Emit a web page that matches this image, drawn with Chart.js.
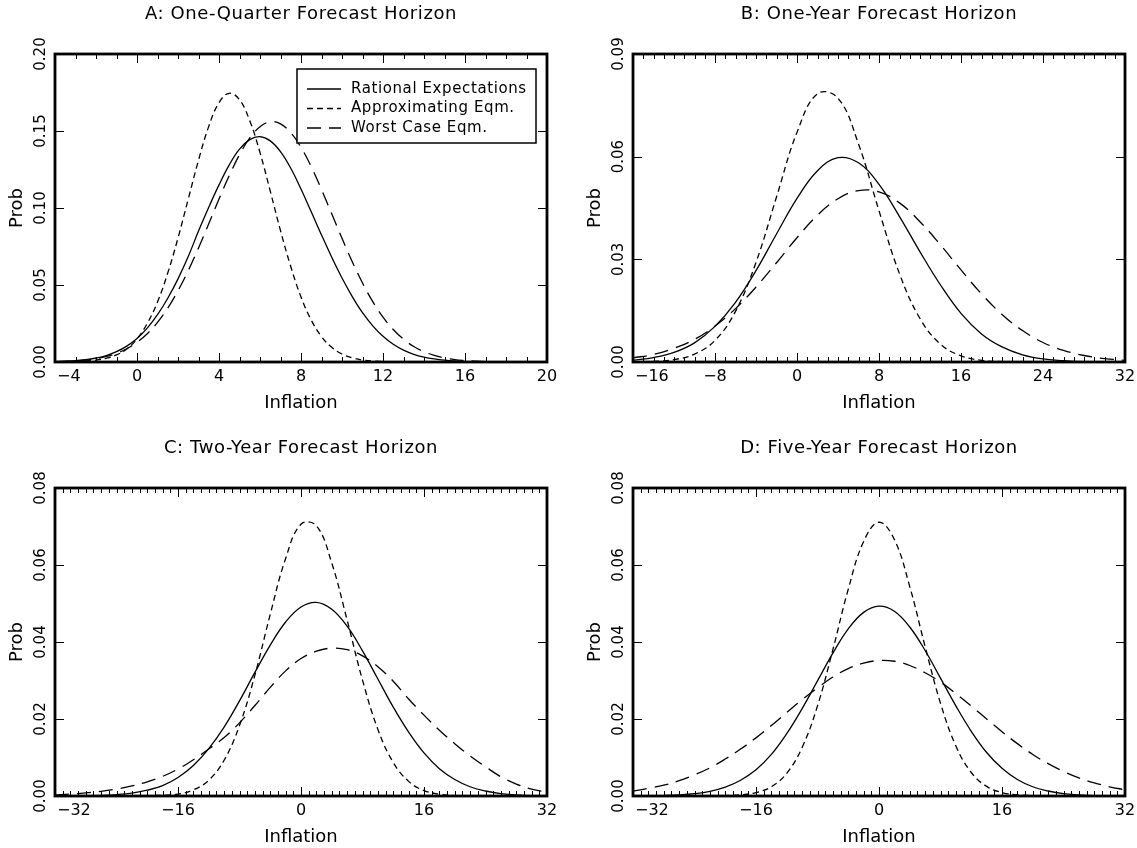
<!DOCTYPE html>
<html>
<head>
<meta charset="utf-8">
<script src="https://cdn.jsdelivr.net/npm/chart.js@4.4.1/dist/chart.umd.min.js"></script>
<style>
body{margin:0;background:#fff;}
#wrap{position:relative;width:1137px;height:848px;background:#fff;}
canvas{position:absolute;}
</style>
</head>
<body>
<div id="wrap">
<canvas id="cA"></canvas>
<canvas id="cB"></canvas>
<canvas id="cC"></canvas>
<canvas id="cD"></canvas>
</div>
<script>
// ---- data ----
const seriesNames = ["Rational Expectations","Approximating Eqm.","Worst Case Eqm."];

// A: one-quarter horizon
const xA = [-4,-3.5,-3,-2.5,-2,-1.5,-1,-0.5,0,0.5,1,1.5,2,2.5,3,3.5,4,4.5,5,5.5,6,6.5,7,7.5,8,8.5,9,9.5,10,10.5,11,11.5,12,12.5,13,13.5,14,14.5,15,15.5,16,16.5,17,17.5,18,18.5,19,19.5,20];
const reA = [.0003,.0005,.0009,.0015,.0026,.0042,.0067,.0103,.0153,.0220,.0307,.0414,.0540,.0685,.0850,.1005,.1150,.1280,.1382,.1444,.1463,.1436,.1366,.1258,.1123,.0975,.0825,.0680,.0545,.0425,.0320,.0235,.0167,.0115,.0077,.0050,.0032,.0020,.0012,.0007,.0004,.0002,.0001,0,0,0,0,0,0];
const apA = [.0001,.0002,.0004,.0007,.0012,.0024,.0046,.0085,.0150,.0250,.0390,.0578,.0805,.1058,.1310,.1530,.1684,.1745,.1703,.1567,.1360,.1110,.0853,.0620,.0422,.0272,.0165,.0095,.0052,.0027,.0013,.0006,.0003,.0001,0,0,0,0,0,0,0,0,0,0,0,0,0,0,0];
const wcA = [.0002,.0004,.0008,.0013,.0022,.0036,.0056,.0086,.0128,.0184,.0257,.0350,.0463,.0594,.0740,.0898,.1058,.1210,.1346,.1455,.1528,.1560,.1546,.1489,.1394,.1268,.1120,.0962,.0803,.0651,.0513,.0392,.0292,.0211,.0148,.0101,.0067,.0043,.0027,.0016,.0010,.0006,.0003,.0002,.0001,0,0,0,0];
const xTicksA = [-4,0,4,8,12,16,20];
const yTicksA = [0,0.05,0.10,0.15,0.20];
const yLabelsA = ["0.00","0.05","0.10","0.15","0.20"];

// B: one-year horizon
const xB = [-16,-14,-12,-10,-8,-6,-4,-2,0,2,4,6,8,10,12,14,16,18,20,22,24,26,28,30,32];
const reB = [.0005,.0013,.0028,.0056,.0104,.0174,.0267,.0374,.0478,.0559,.0597,.0582,.0519,.0425,.0322,.0225,.0142,.0082,.0044,.0021,.0009,.0004,.0001,.00004,.00001];
const apB = [.00004,.0002,.0007,.0023,.0063,.0148,.0291,.0482,.0671,.0784,.0771,.0637,.0442,.0258,.0127,.0052,.0018,.0005,.0001,0,0,0,0,0,0];
const wcB = [.0012,.0022,.0040,.0066,.0105,.0156,.0219,.0290,.0363,.0429,.0477,.0501,.0497,.0465,.0410,.0342,.0269,.0199,.0139,.0092,.0057,.0034,.0019,.0010,.0005];
const xTicksB = [-16,-8,0,8,16,24,32];
const yTicksB = [0,0.03,0.06,0.09];
const yLabelsB = ["0.00","0.03","0.06","0.09"];

// C: two-year horizon
const xC = [-32,-30,-28,-26,-24,-22,-20,-18,-16,-14,-12,-10,-8,-6,-4,-2,0,2,4,6,8,10,12,14,16,18,20,22,24,26,28,30,32];
const reC = [.00001,.00003,.00007,.00016,.00036,.00075,.0015,.0027,.0048,.0079,.0123,.0179,.0247,.0321,.0392,.0452,.0491,.0503,.0485,.0441,.0377,.0304,.0231,.0166,.0112,.0071,.0043,.0024,.0013,.0006,.0003,.0001,.00005];
const apC = [0,0,0,0,0,0,.0001,.0002,.0005,.0016,.0041,.0093,.0183,.0314,.0472,.0617,.0706,.0702,.0605,.0457,.0301,.0173,.0087,.0038,.0014,.0005,.0001,0,0,0,0,0,0];
const wcC = [.0003,.0005,.0008,.0012,.0018,.0026,.0037,.0051,.0070,.0094,.0122,.0152,.0190,.0235,.0282,.0325,.0357,.0376,.0384,.0380,.0364,.0336,.0298,.0252,.0210,.0171,.0136,.0104,.0076,.0050,.0031,.0018,.0010];
const xTicksC = [-32,-16,0,16,32];
const yTicksC = [0,0.02,0.04,0.06,0.08];
const yLabelsC = ["0.00","0.02","0.04","0.06","0.08"];

// D: five-year horizon
const xD = xC;
const reD = [.00002,.00005,.00012,.00027,.00059,.0012,.0023,.0041,.0068,.0108,.0162,.0227,.0299,.0371,.0434,.0477,.0493,.0480,.0439,.0378,.0306,.0234,.0168,.0113,.0072,.0043,.0024,.0013,.0006,.0003,.0001,.00005,.00002];
const apD = [0,0,0,0,0,0,.0001,.0003,.0009,.0024,.0059,.0126,.0234,.0380,.0537,.0661,.0711,.0666,.0544,.0388,.0241,.0130,.0061,.0025,.0009,.0003,.0001,0,0,0,0,0,0];
const wcD = [.0013,.0020,.0028,.0040,.0055,.0073,.0096,.0122,.0151,.0183,.0217,.0250,.0281,.0309,.0331,.0345,.0352,.0350,.0339,.0320,.0296,.0266,.0234,.0200,.0167,.0136,.0108,.0084,.0064,.0047,.0034,.0024,.0016];
const xTicksD = xTicksC;
const yTicksD = yTicksC;
const yLabelsD = yLabelsC;

const dashes = [[], [6,4], [14,8]];
const FONT = "'DejaVu Sans', sans-serif";

// draws the box, inward ticks, labels and (panel A) the legend
const framePlugin = {
  id: "frame",
  afterDatasetsDraw(chart, args, o){
    const ctx = chart.ctx;
    const a = chart.chartArea;
    const xs = chart.scales.x, ys = chart.scales.y;
    ctx.save();
    ctx.fillStyle = "#000";
    ctx.strokeStyle = "#000";

    if(o.legend){
      const lx = a.left + 242, ly = a.top + 15, lw = 239, lh = 74;
      ctx.fillStyle = "#fff";
      ctx.fillRect(lx, ly, lw, lh);
      ctx.lineWidth = 1.5;
      ctx.strokeRect(lx, ly, lw, lh);
      ctx.fillStyle = "#000";
      ctx.font = "15px " + FONT;
      ctx.letterSpacing = "0.6px";
      ctx.textAlign = "left";
      ctx.textBaseline = "middle";
      seriesNames.forEach((n,i)=>{
        const ry = ly + 20 + i*19.5;
        ctx.lineWidth = 1.3;
        ctx.setLineDash(dashes[i]);
        ctx.beginPath();
        ctx.moveTo(lx + 10, ry);
        ctx.lineTo(lx + 44, ry);
        ctx.stroke();
        ctx.setLineDash([]);
        ctx.fillText(n, lx + 54, ry);
      });
      ctx.letterSpacing = "0px";
    }

    // minor + major x ticks, bottom and top
    ctx.lineWidth = 1;
    for(let v = o.xMin; v <= o.xMax; v += o.xMinor){
      const px = Math.round(xs.getPixelForValue(v)) + 0.5;
      const major = o.xTicks.includes(v);
      const len = major ? 9 : 5;
      ctx.beginPath();
      ctx.moveTo(px, a.bottom); ctx.lineTo(px, a.bottom - len);
      ctx.moveTo(px, a.top); ctx.lineTo(px, a.top + len);
      ctx.stroke();
    }
    o.yTicks.forEach(v=>{
      const py = Math.round(ys.getPixelForValue(v)) + 0.5;
      ctx.beginPath();
      ctx.moveTo(a.left, py); ctx.lineTo(a.left + 9, py);
      ctx.moveTo(a.right, py); ctx.lineTo(a.right - 9, py);
      ctx.stroke();
    });

    ctx.lineWidth = 2.8;
    ctx.strokeRect(a.left, a.top, a.right - a.left, a.bottom - a.top);

    // x tick labels
    ctx.font = "16px " + FONT;
    ctx.textBaseline = "middle";
    o.xTicks.forEach((v,i)=>{
      const px = xs.getPixelForValue(v);
      const t = v < 0 ? "\u2212" + Math.abs(v) : String(v);
      if(i === 0){ ctx.textAlign = "left"; ctx.fillText(t, px + 2, a.bottom + 15); }
      else { ctx.textAlign = "center"; ctx.fillText(t, px, a.bottom + 15); }
    });
    // y tick labels, rotated
    ctx.font = "15px " + FONT;
    o.yTicks.forEach((v,i)=>{
      const py = ys.getPixelForValue(v);
      ctx.save();
      ctx.translate(a.left - 14, py);
      ctx.rotate(-Math.PI/2);
      ctx.textAlign = "center";
      ctx.fillText(o.yLabels[i], 0, 0);
      ctx.restore();
    });

    ctx.font = "18px " + FONT;
    ctx.textAlign = "center";
    ctx.fillText("Inflation", (a.left + a.right)/2, a.bottom + 41);
    ctx.save();
    ctx.translate(a.left - 38, (a.top + a.bottom)/2);
    ctx.rotate(-Math.PI/2);
    ctx.fillText("Prob", 0, 0);
    ctx.restore();
    ctx.letterSpacing = "0.6px";
    ctx.fillText(o.title, (a.left + a.right)/2, a.top - 40);
    ctx.letterSpacing = "0px";

    ctx.restore();
  }
};

function makePanel(id, pos, pad, xs, re, ap, wc, opt){
  const cv = document.getElementById(id);
  cv.width = pos.w; cv.height = pos.h;
  cv.style.left = pos.x + "px"; cv.style.top = pos.y + "px";
  const pts = arr => xs.map((x,i)=>({x:x, y:arr[i]}));
  const ds = [re, ap, wc].map((arr,i)=>({
    label: seriesNames[i],
    data: pts(arr),
    borderColor: "#000",
    borderWidth: 1.3,
    borderDash: dashes[i],
    pointRadius: 0,
    tension: 0.4,
    fill: false
  }));
  return new Chart(cv, {
    type: "line",
    data: { datasets: ds },
    options: {
      responsive: false,
      animation: false,
      devicePixelRatio: 1,
      layout: { padding: pad },
      scales: {
        x: { type: "linear", min: opt.xMin, max: opt.xMax, display: false },
        y: { min: 0, max: opt.yMax, display: false }
      },
      plugins: {
        legend: { display: false },
        tooltip: { enabled: false },
        frame: opt
      }
    },
    plugins: [framePlugin]
  });
}

makePanel("cA", {x:0,y:0,w:578,h:424}, {left:55,top:54,right:31,bottom:62}, xA, reA, apA, wcA,
  {title:"A: One-Quarter Forecast Horizon", xMin:-4, xMax:20, xMinor:1, xTicks:xTicksA, yMax:0.2, yTicks:yTicksA, yLabels:yLabelsA, legend:true});
makePanel("cB", {x:578,y:0,w:559,h:424}, {left:55,top:54,right:12,bottom:62}, xB, reB, apB, wcB,
  {title:"B: One-Year Forecast Horizon", xMin:-16, xMax:32, xMinor:1, xTicks:xTicksB, yMax:0.09, yTicks:yTicksB, yLabels:yLabelsB});
makePanel("cC", {x:0,y:424,w:578,h:424}, {left:55,top:64,right:31,bottom:52}, xC, reC, apC, wcC,
  {title:"C: Two-Year Forecast Horizon", xMin:-32, xMax:32, xMinor:1, xTicks:xTicksC, yMax:0.08, yTicks:yTicksC, yLabels:yLabelsC});
makePanel("cD", {x:578,y:424,w:559,h:424}, {left:55,top:64,right:12,bottom:52}, xD, reD, apD, wcD,
  {title:"D: Five-Year Forecast Horizon", xMin:-32, xMax:32, xMinor:1, xTicks:xTicksD, yMax:0.08, yTicks:yTicksD, yLabels:yLabelsD});
</script>
</body>
</html>
